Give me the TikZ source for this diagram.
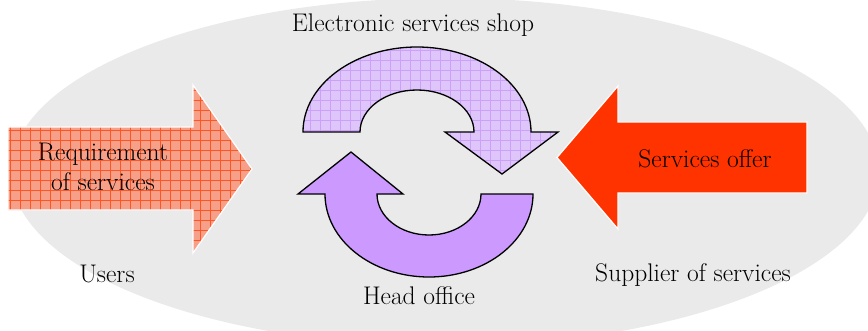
\documentclass[tikz,border=0pt]{standalone}
\definecolor{ellgray}{RGB}{234,234,234}
\definecolor{salmonfill}{RGB}{246,160,138}
\definecolor{salmongrid}{RGB}{255,85,35}
\definecolor{offerred}{RGB}{255,51,0}
\definecolor{lavfill}{RGB}{222,198,250}
\definecolor{lavgrid}{RGB}{204,160,250}
\definecolor{violetfill}{RGB}{204,153,255}
\begin{document}
\begin{tikzpicture}[x=1pt,y=1pt,
  lbl/.style={font=\fontsize{25.5}{30}\selectfont, inner sep=0pt, anchor=base},
  cyc/.style={draw=black, line width=1.3pt, line join=miter}]
\useasboundingbox (0,0) rectangle (868,330);
% background ellipse
\fill[ellgray] (445,158) ellipse [x radius=434, y radius=174];
% left arrow (requirement of services)
\def\leftarrowpath{(8,120) -- (193,120) -- (193,77) -- (252,161) -- (193,245) -- (193,203) -- (8,203) -- cycle}
\fill[salmonfill] \leftarrowpath;
\begin{scope}
  \clip \leftarrowpath;
  \draw[salmongrid, line width=0.5pt, step=10pt] (0,70) grid (260,250);
\end{scope}
\draw[white, line width=1.2pt, line join=miter] \leftarrowpath;
% right arrow (services offer)
\draw[fill=offerred, draw=white, line width=1.2pt, line join=miter]
  (807,137) -- (618,137) -- (618,101) -- (557,172.5) -- (618,244) -- (618,208) -- (807,208) -- cycle;
% top circular arrow
\def\toparrowpath{(303,198) arc[start angle=180, end angle=0, x radius=114, y radius=85]
  -- (558,198) -- (502,156) -- (445,198) -- (474,198)
  arc[start angle=0, end angle=180, x radius=57, y radius=42] -- cycle}
\fill[lavfill] \toparrowpath;
\begin{scope}
  \clip \toparrowpath;
  \draw[lavgrid, line width=0.6pt, step=10pt] (300,150) grid (560,290);
\end{scope}
\draw[cyc] \toparrowpath;
% bottom circular arrow
\draw[cyc, fill=violetfill] (533,136) arc[start angle=0, end angle=-180, x radius=104, y radius=83]
  -- (298,136) -- (351,178) -- (403,136) -- (377,136)
  arc[start angle=180, end angle=360, x radius=52, y radius=41] -- cycle;
% labels
\node[lbl] (shop) at (413,298) {Electronic services shop};
\node[lbl] (users) at (107,48) {Users};
\node[lbl] (head) at (419,26) {Head office};
\node[lbl] (supplier) at (693,49) {Supplier of services};
\node[lbl] (offer) at (705,163) {Services offer};
\node[lbl, anchor=center, align=center] (req) at (103,163) {Requirement\\of services};
\end{tikzpicture}
\end{document}
